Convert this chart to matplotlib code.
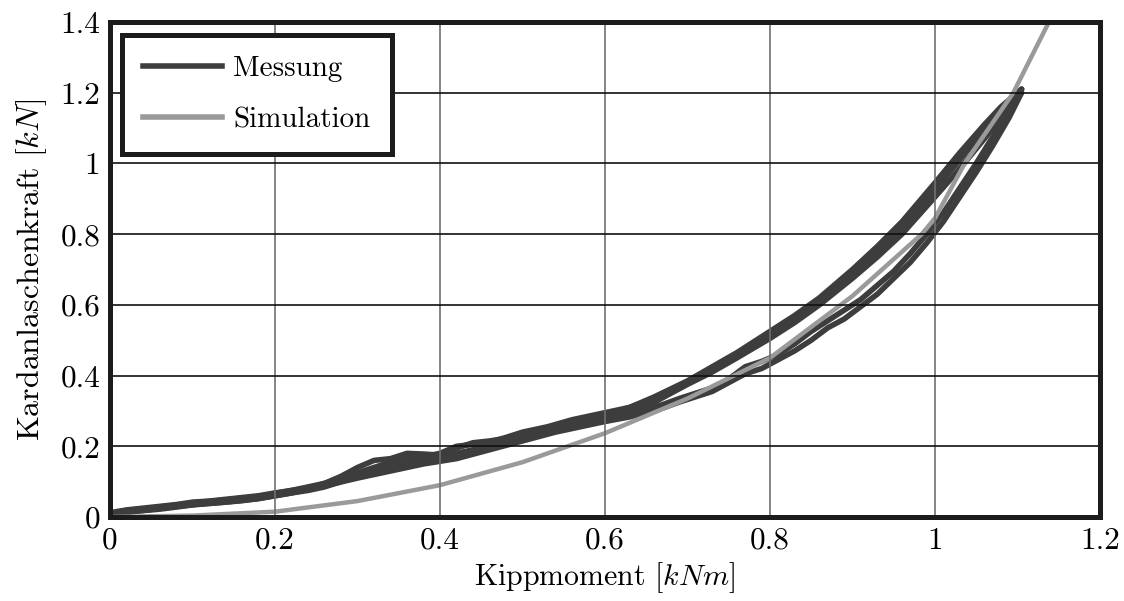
import matplotlib
matplotlib.use("Agg")
import matplotlib.pyplot as plt
from matplotlib.lines import Line2D

plt.rcParams['font.family'] = 'cmr10'
plt.rcParams['mathtext.fontset'] = 'cm'
plt.rcParams['axes.formatter.use_mathtext'] = True

# Measured loading branches (Kippmoment in kNm, Kardanlaschenkraft in kN)
x_load = [0, 0.02, 0.04, 0.06, 0.08, 0.1, 0.12, 0.14, 0.16, 0.18, 0.2, 0.22, 0.24, 0.26,
          0.28, 0.3, 0.32, 0.34, 0.36, 0.38, 0.4, 0.42, 0.44, 0.46, 0.48, 0.5, 0.53, 0.56,
          0.6, 0.63, 0.66, 0.7, 0.73, 0.76, 0.8, 0.83, 0.86, 0.9, 0.93, 0.96, 1.0, 1.03,
          1.06, 1.08, 1.105]
load_1 = [0.012, 0.02, 0.025, 0.03, 0.035, 0.042, 0.045, 0.05, 0.055, 0.06, 0.068, 0.075,
          0.082, 0.095, 0.115, 0.14, 0.16, 0.165, 0.18, 0.178, 0.175, 0.195, 0.21, 0.215,
          0.222, 0.235, 0.25, 0.27, 0.29, 0.31, 0.34, 0.385, 0.425, 0.465, 0.525, 0.57,
          0.62, 0.70, 0.765, 0.835, 0.945, 1.03, 1.11, 1.16, 1.21]
load_2 = [0.01, 0.018, 0.022, 0.028, 0.032, 0.038, 0.042, 0.046, 0.05, 0.056, 0.064, 0.072,
          0.08, 0.09, 0.105, 0.125, 0.14, 0.155, 0.165, 0.17, 0.18, 0.2, 0.205, 0.212,
          0.225, 0.24, 0.255, 0.275, 0.295, 0.31, 0.335, 0.38, 0.415, 0.455, 0.515, 0.56,
          0.61, 0.685, 0.75, 0.815, 0.925, 1.01, 1.095, 1.15, 1.21]
load_3 = [0.008, 0.014, 0.018, 0.022, 0.028, 0.034, 0.038, 0.042, 0.046, 0.052, 0.06,
          0.068, 0.075, 0.085, 0.1, 0.115, 0.128, 0.14, 0.15, 0.155, 0.165, 0.18, 0.19,
          0.2, 0.21, 0.22, 0.24, 0.26, 0.28, 0.3, 0.325, 0.375, 0.41, 0.45, 0.505, 0.55,
          0.60, 0.675, 0.735, 0.80, 0.905, 0.985, 1.07, 1.13, 1.20]

# Measured unloading branches
x_unload = [1.105, 1.09, 1.07, 1.05, 1.03, 1.01, 0.99, 0.97, 0.95, 0.93, 0.91, 0.89, 0.87,
            0.85, 0.83, 0.81, 0.79, 0.77, 0.75, 0.73, 0.71, 0.69, 0.67, 0.65, 0.63, 0.6,
            0.57, 0.54, 0.5, 0.46, 0.42, 0.38, 0.34, 0.3, 0.26, 0.22, 0.18, 0.14, 0.1,
            0.06, 0.03, 0.0]
unload_1 = [1.21, 1.15, 1.075, 1.0, 0.93, 0.86, 0.80, 0.745, 0.695, 0.655, 0.615, 0.585,
            0.555, 0.525, 0.49, 0.46, 0.44, 0.425, 0.39, 0.365, 0.35, 0.335, 0.318, 0.305,
            0.292, 0.278, 0.265, 0.25, 0.225, 0.2, 0.175, 0.16, 0.14, 0.12, 0.095, 0.075,
            0.058, 0.048, 0.04, 0.028, 0.02, 0.01]
unload_2 = [1.20, 1.13, 1.05, 0.975, 0.905, 0.835, 0.775, 0.72, 0.675, 0.63, 0.595, 0.56,
            0.535, 0.50, 0.47, 0.445, 0.42, 0.405, 0.38, 0.355, 0.34, 0.325, 0.308, 0.296,
            0.283, 0.27, 0.255, 0.24, 0.215, 0.19, 0.165, 0.15, 0.13, 0.11, 0.088, 0.068,
            0.052, 0.042, 0.035, 0.024, 0.016, 0.006]

# Simulation
x_sim = [0, 0.1, 0.2, 0.3, 0.4, 0.5, 0.6, 0.7, 0.8, 0.9, 0.984, 1.0, 1.036, 1.095, 1.136]
y_sim = [0.0, 0.004, 0.015, 0.045, 0.09, 0.155, 0.237, 0.335, 0.45, 0.625, 0.80, 0.845,
         1.0, 1.2, 1.39]

x_ticks = [0, 0.2, 0.4, 0.6, 0.8, 1.0, 1.2]
x_tick_labels = ['0', '0.2', '0.4', '0.6', '0.8', '1', '1.2']
y_ticks = [0, 0.2, 0.4, 0.6, 0.8, 1.0, 1.2, 1.4]
y_tick_labels = ['0', '0.2', '0.4', '0.6', '0.8', '1', '1.2', '1.4']

meas_color = '#3d3d3d'
sim_color = '#9a9a9b'
fs = 21

fig = plt.figure(figsize=(11.24, 6.01), dpi=100)
ax = fig.add_axes([0.0979, 0.1398, 0.8807, 0.8236])

for y in (load_1, load_2, load_3):
    ax.plot(x_load, y, color=meas_color, lw=4.0, solid_joinstyle='round',
            solid_capstyle='round')
for y in (unload_1, unload_2):
    ax.plot(x_unload, y, color=meas_color, lw=4.0, solid_joinstyle='round',
            solid_capstyle='round')
ax.plot(x_sim, y_sim, color=sim_color, lw=3.2)

ax.set_xlim(0, 1.2)
ax.set_ylim(0, 1.4)
ax.set_xticks(x_ticks)
ax.set_xticklabels(x_tick_labels)
ax.set_yticks(y_ticks)
ax.set_yticklabels(y_tick_labels)
ax.tick_params(length=0, labelsize=22.5, pad=7)

ax.set_axisbelow(False)
ax.xaxis.grid(True, color='#707070', lw=1.2)
ax.yaxis.grid(True, color='#111111', lw=1.2)

for s in ax.spines.values():
    s.set_linewidth(3.6)
    s.set_color('#1e1b1c')
    s.set_zorder(5)

ax.set_xlabel('Kippmoment $[kNm]$', fontsize=21.5, labelpad=4)
ax.set_ylabel('Kardanlaschenkraft $[kN]$', fontsize=23, labelpad=8)

handles = [Line2D([], [], color=meas_color, lw=4.0),
           Line2D([], [], color=sim_color, lw=4.0)]
leg = ax.legend(handles, ['Messung', 'Simulation'], loc='upper left',
                bbox_to_anchor=(0.012, 0.974), borderaxespad=0, fancybox=False,
                framealpha=1, edgecolor='#1e1b1c', fontsize=fs, handlelength=2.7,
                handletextpad=0.4, borderpad=0.72, labelspacing=0.85)
leg.get_frame().set_linewidth(3.6)
leg.set_zorder(6)

fig.savefig('out.png', dpi=100)
